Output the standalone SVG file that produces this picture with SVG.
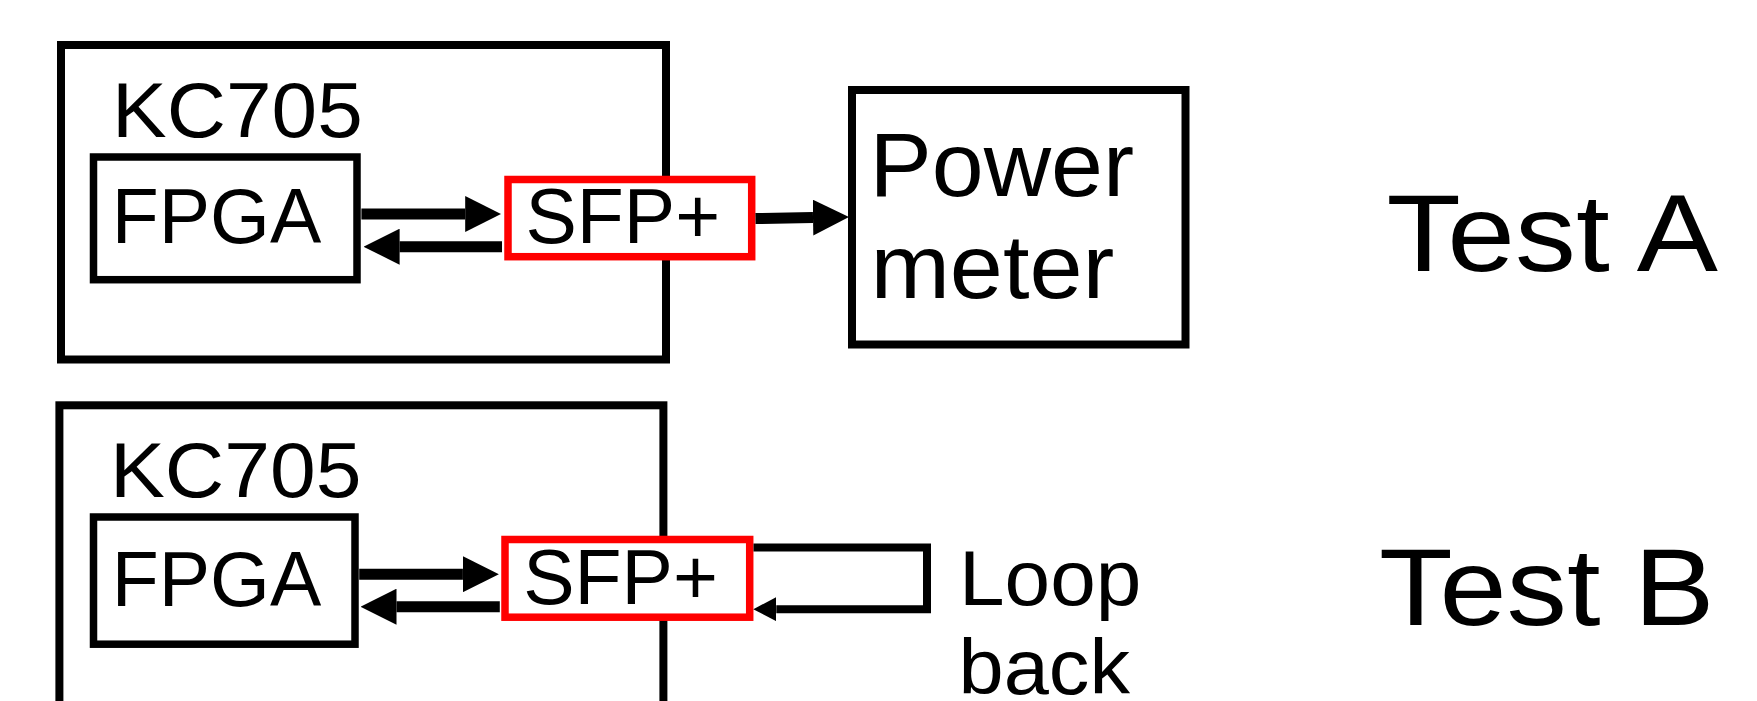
<svg xmlns="http://www.w3.org/2000/svg" width="1757" height="701" viewBox="0 0 1757 701">
<style>
  .box { fill: #ffffff; stroke: #000000; stroke-width: 8; }
  .sfp { fill: #ffffff; stroke: #ff0000; stroke-width: 7.5; }
  .t { font-family: "Liberation Sans", Arial, Helvetica, sans-serif; fill: #000000; }
  .conn { fill: none; stroke: #000000; stroke-width: 11; }
  .loop { fill: none; stroke: #000000; stroke-width: 8; }
</style>
<defs>
  <marker id="headBig" markerUnits="userSpaceOnUse" viewBox="0 0 36 36" markerWidth="36" markerHeight="36" refX="0" refY="18" orient="auto">
    <path d="M0,0 L36,18 L0,36 z" fill="#000000"/>
  </marker>
  <marker id="headSmall" markerUnits="userSpaceOnUse" viewBox="0 0 23 24" markerWidth="23" markerHeight="24" refX="0" refY="12" orient="auto">
    <path d="M0,0 L23,12 L0,24 z" fill="#000000"/>
  </marker>
</defs>
<rect width="1757" height="701" fill="#ffffff"/>

<g id="testA">
  <g id="kc705-a">
    <rect class="box" x="61" y="45" width="605" height="314.5"/>
    <text class="t" x="112.1" y="137.3" font-size="78" textLength="250.7" lengthAdjust="spacingAndGlyphs">KC705</text>
  </g>
  <g id="fpga-a">
    <rect class="box" x="93.5" y="157" width="263.5" height="122.7" style="stroke-width:7.5"/>
    <text class="t" x="111.8" y="243.3" font-size="77" textLength="209.5" lengthAdjust="spacingAndGlyphs">FPGA</text>
  </g>
  <g id="sfp-a">
    <rect class="sfp" x="508" y="179.5" width="243.7" height="77.2"/>
    <text class="t" x="525.4" y="243.3" font-size="77">SFP+</text>
  </g>
  <g id="powermeter">
    <rect class="box" x="852" y="90" width="333.5" height="254.5"/>
    <text class="t" x="869.5" y="196" font-size="91" textLength="264.5" lengthAdjust="spacingAndGlyphs">Power</text>
    <text class="t" x="870.4" y="298.3" font-size="91" textLength="243.9" lengthAdjust="spacingAndGlyphs">meter</text>
  </g>
  <g id="label-a">
    <text class="t" x="1386.5" y="271" font-size="110" textLength="331.5" lengthAdjust="spacingAndGlyphs">Test A</text>
  </g>
</g>

<g id="testB">
  <g id="kc705-b">
    <rect class="box" x="59.4" y="405.3" width="604" height="320"/>
    <text class="t" x="109.9" y="497.3" font-size="78" textLength="251.6" lengthAdjust="spacingAndGlyphs">KC705</text>
  </g>
  <g id="fpga-b">
    <rect class="box" x="93.5" y="517" width="261.5" height="127.2" style="stroke-width:7.5"/>
    <text class="t" x="111.8" y="606" font-size="77" textLength="209.5" lengthAdjust="spacingAndGlyphs">FPGA</text>
  </g>
  <g id="sfp-b">
    <rect class="sfp" x="505" y="539.5" width="244.7" height="77.7"/>
    <text class="t" x="523.2" y="604.3" font-size="77">SFP+</text>
  </g>
  <g id="loopback-label">
    <text class="t" x="959" y="605" font-size="77" textLength="182.4" lengthAdjust="spacingAndGlyphs">Loop</text>
    <text class="t" x="958.6" y="694" font-size="77" textLength="171.4" lengthAdjust="spacingAndGlyphs">back</text>
  </g>
  <g id="label-b">
    <text class="t" x="1379" y="625" font-size="110" textLength="335.6" lengthAdjust="spacingAndGlyphs">Test B</text>
  </g>
</g>

<g id="connectors">
  <path class="conn" d="M361.4,214 H465.2" marker-end="url(#headBig)"/>
  <path class="conn" d="M502,246.7 H399.6" marker-end="url(#headBig)"/>
  <path class="conn" d="M755.5,218.6 L813,217.6" marker-end="url(#headBig)"/>
  <path class="conn" d="M359.2,574.2 H462.9" marker-end="url(#headBig)"/>
  <path class="conn" d="M499.8,606.7 H396.5" marker-end="url(#headBig)"/>
  <path class="loop" d="M753.5,547.5 H927 V609.2 H776.3" marker-end="url(#headSmall)"/>
</g>
</svg>
